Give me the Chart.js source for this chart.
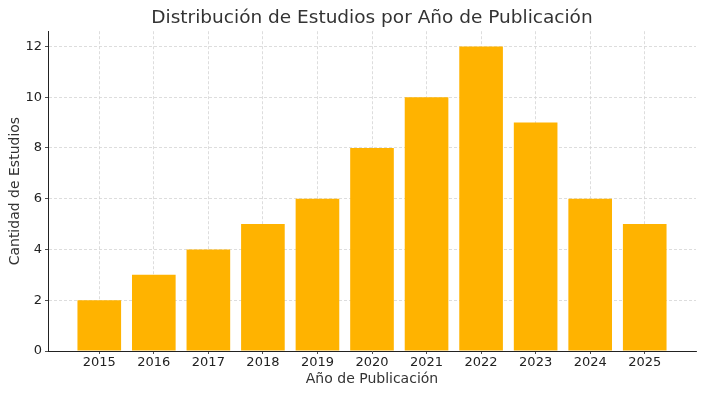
<!DOCTYPE html>
<html>
<head>
<meta charset="utf-8">
<script src="https://cdn.jsdelivr.net/npm/chart.js@4.4.1/dist/chart.umd.min.js"></script>
<style>
  html, body { margin: 0; padding: 0; background: #fff; }
  #wrap { width: 704px; height: 395px; }
</style>
</head>
<body>
<div id="wrap"><canvas id="myChart" width="704" height="395"></canvas></div>
<script>
const years = [2015, 2016, 2017, 2018, 2019, 2020, 2021, 2022, 2023, 2024, 2025];
const studies = [2, 3, 4, 5, 6, 8, 10, 12, 9, 6, 5];
const yTicks = [0, 2, 4, 6, 8, 10, 12];

const font = "'DejaVu Sans', sans-serif";
const ctx = document.getElementById("myChart").getContext("2d");

// centre the title over the plot area, like matplotlib does
const titleOverPlot = {
  id: "titleOverPlot",
  beforeDraw(chart) {
    const t = chart.titleBlock;
    if (t) {
      t.left = chart.chartArea.left;
      t.right = chart.chartArea.right;
    }
  },
};

new Chart(ctx, {
  type: "bar",
  data: {
    datasets: [{
      label: "Estudios",
      data: years.map((y, i) => ({ x: y, y: studies[i] })),
      backgroundColor: "#FFB300",
      borderWidth: 0,
      barPercentage: 0.8,
      categoryPercentage: 1,
    }],
  },
  options: {
    responsive: false,
    animation: false,
    layout: { padding: { left: 0, right: 8, top: 0, bottom: 7 } },
    plugins: {
      legend: { display: false },
      tooltip: { enabled: false },
      title: {
        display: true,
        text: "Distribución de Estudios por Año de Publicación",
        color: "#333",
        font: { family: font, size: 18.5, weight: "normal" },
        padding: { top: 7, bottom: 2 },
      },
    },
    scales: {
      x: {
        type: "linear",
        min: 2014.06,
        max: 2025.94,
        offset: false,
        afterBuildTicks: (s) => { s.ticks = years.map((v) => ({ value: v })); },
        afterFit: (s) => { s.height = 37; },
        ticks: {
          color: "#222",
          font: { family: font, size: 13 },
          padding: 1,
          callback: (v) => String(v),
        },
        grid: {
          offset: false,
          color: "#d4d4d4",
          lineWidth: 0.8,
          tickColor: "#222",
          tickLength: 3,
          tickBorderDash: [],
        },
        border: { display: true, color: "#222", width: 1, dash: [3, 2] },
        title: {
          display: true,
          text: "Año de Publicación",
          color: "#333",
          font: { family: font, size: 14 },
          padding: { top: 0, bottom: 0 },
        },
      },
      y: {
        min: 0,
        max: 12.6,
        afterBuildTicks: (s) => { s.ticks = yTicks.map((v) => ({ value: v })); },
        afterFit: (s) => { s.width = 48; },
        ticks: {
          color: "#222",
          font: { family: font, size: 13 },
          padding: 3,
        },
        grid: {
          color: "#d4d4d4",
          lineWidth: 0.8,
          tickColor: "#222",
          tickLength: 3,
          tickBorderDash: [],
        },
        border: { display: true, color: "#222", width: 1, dash: [3, 2] },
        title: {
          display: true,
          text: "Cantidad de Estudios",
          color: "#333",
          font: { family: font, size: 14 },
          padding: { top: 7, bottom: 2 },
        },
      },
    },
  },
  plugins: [titleOverPlot],
});
</script>
</body>
</html>
